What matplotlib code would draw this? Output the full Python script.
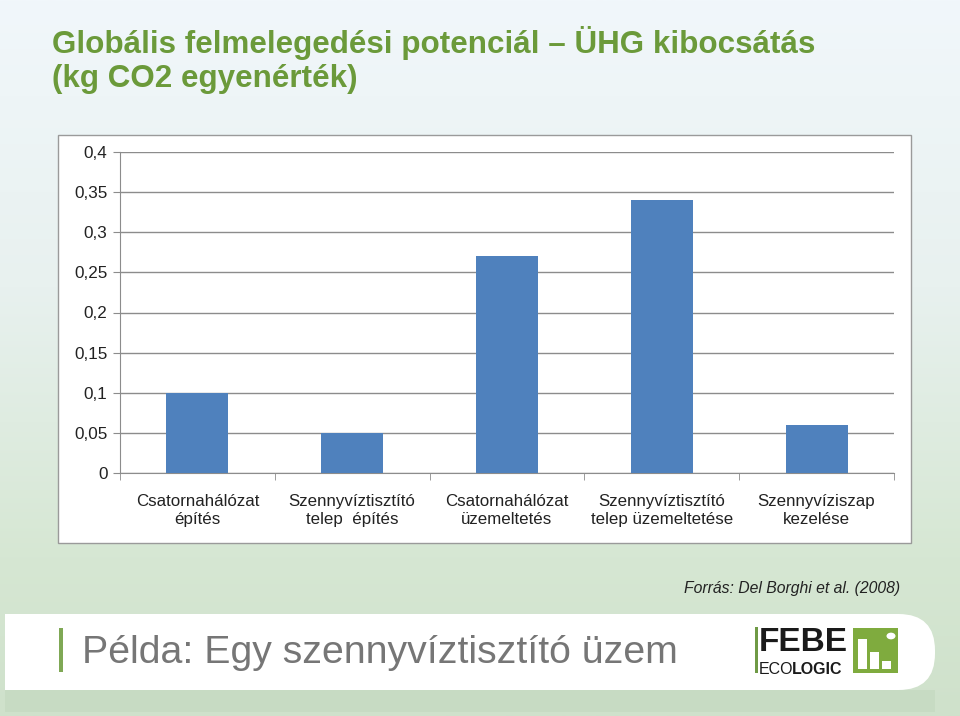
import numpy as np
import matplotlib.pyplot as plt
from matplotlib.patches import Rectangle, FancyBboxPatch
from matplotlib.colors import LinearSegmentedColormap

categories = ["Csatornahálózat\népítés",
              "Szennyvíztisztító\ntelep  építés",
              "Csatornahálózat\nüzemeltetés",
              "Szennyvíztisztító\ntelep üzemeltetése",
              "Szennyvíziszap\nkezelése"]
values = [0.10, 0.05, 0.27, 0.34, 0.06]
yticks = [0, 0.05, 0.1, 0.15, 0.2, 0.25, 0.3, 0.35, 0.4]
ytick_labels = ["0", "0,05", "0,1", "0,15", "0,2", "0,25", "0,3", "0,35", "0,4"]

TITLE_1 = "Globális felmelegedési potenciál – ÜHG kibocsátás"
TITLE_2 = "(kg CO2 egyenérték)"
SOURCE = "Forrás: Del Borghi et al. (2008)"
FOOTER = "Példa: Egy szennyvíztisztító üzem"

plt.rcParams["font.family"] = ["Liberation Sans", "DejaVu Sans"]

W, H = 960, 716
fig = plt.figure(figsize=(W / 100, H / 100), dpi=100)


def fx(px):
    return px / W


def fy(py):
    # pixel row measured from the top -> figure fraction
    return 1 - py / H


# slide background gradient
bg = fig.add_axes([0, 0, 1, 1], zorder=-10)
cmap = LinearSegmentedColormap.from_list(
    "bg", [(0.0, "#f1f7fb"), (0.4, "#e8f1ef"), (0.78, "#d6e7d3"), (1.0, "#cfe1cb")])
grad = np.linspace(0, 1, 256).reshape(-1, 1)
bg.imshow(grad, aspect="auto", cmap=cmap, extent=[0, 1, 1, 0])
bg.set_xlim(0, 1)
bg.set_ylim(1, 0)
bg.axis("off")

# white chart box
fig.patches.append(Rectangle((fx(58), fy(543)), fx(911 - 58), (543 - 135) / H,
                             transform=fig.transFigure, facecolor="white",
                             edgecolor="#9a9a9a", linewidth=1, zorder=-5))

# title
fig.text(fx(52), fy(52.5), TITLE_1, color="#6b9a3a", fontsize=22.6, fontweight="bold",
         ha="left", va="baseline")
fig.text(fx(52), fy(87.5), TITLE_2, color="#6b9a3a", fontsize=22.6, fontweight="bold",
         ha="left", va="baseline")

# bar chart
ax = fig.add_axes([fx(120), fy(473), fx(894 - 120), (473 - 152) / H])
x = np.arange(len(categories))
ax.bar(x, values, width=0.4, color="#4f81bd", zorder=3)
ax.set_xlim(-0.5, len(categories) - 0.5)
ax.set_ylim(0, 0.4)
ax.set_yticks(yticks)
ax.set_yticklabels(ytick_labels, fontsize=12.3, color="#222222")
ax.yaxis.grid(True, color="#8c8c8c", linewidth=1)
ax.set_axisbelow(True)
ax.set_xticks(x)
ax.set_xticklabels(categories, fontsize=12.2, color="#222222", linespacing=1.3)
ax.tick_params(axis="x", length=0, pad=15)
ax.set_xticks(np.arange(-0.5, len(categories)), minor=True)
ax.tick_params(axis="x", which="minor", length=5, color="#8c8c8c")
ax.tick_params(axis="y", length=5, color="#8c8c8c", pad=4)
for side in ["top", "right"]:
    ax.spines[side].set_visible(False)
for side in ["left", "bottom"]:
    ax.spines[side].set_color("#8c8c8c")
ax.patch.set_alpha(0)

# source note
fig.text(fx(900), fy(593), SOURCE, fontsize=11.3, fontstyle="italic", ha="right",
         va="baseline", color="#222222")

# footer band with soft shadow under it
fig.patches.append(Rectangle((fx(5), fy(712)), fx(930), 22 / H, transform=fig.transFigure,
                             facecolor="#c7dbc3", edgecolor="none", zorder=-4))
fig.patches.append(Rectangle((fx(5), fy(690)), fx(600), 76 / H, transform=fig.transFigure,
                             facecolor="white", edgecolor="none", zorder=-3))
fig.patches.append(FancyBboxPatch((fx(500), fy(690)), fx(435), 76 / H,
                                  transform=fig.transFigure,
                                  boxstyle="round,pad=0,rounding_size=0.038",
                                  facecolor="white", edgecolor="none", zorder=-3,
                                  mutation_aspect=W / H))
fig.patches.append(Rectangle((fx(59), fy(672)), fx(4), 44 / H, transform=fig.transFigure,
                             facecolor="#7fa855", edgecolor="none"))
fig.text(fx(82), fy(663), FOOTER, fontsize=28.3, color="#767676", ha="left", va="baseline")

# logo
fig.patches.append(Rectangle((fx(755), fy(673)), fx(3), 46 / H, transform=fig.transFigure,
                             facecolor="#6f9a45", edgecolor="none"))
fig.text(fx(759), fy(651), "FEBE", fontsize=24, fontweight="bold", color="#1a1a1a",
         ha="left", va="baseline")
eco = fig.text(fx(759), fy(674), "ECO", fontsize=11.5, color="#1a1a1a",
               ha="left", va="baseline")
renderer = fig.canvas.get_renderer()
eco_right = eco.get_window_extent(renderer=renderer).x1 - 1.5
fig.text(eco_right / W, fy(674), "LOGIC", fontsize=11.5, fontweight="bold", color="#1a1a1a",
         ha="left", va="baseline")
fig.patches.append(Rectangle((fx(853), fy(673)), fx(45), 45 / H, transform=fig.transFigure,
                             facecolor="#7fab3e", edgecolor="none"))
for bx, bh in [(858, 30), (870, 17), (882, 8)]:
    fig.patches.append(Rectangle((fx(bx), fy(669)), fx(9), bh / H, transform=fig.transFigure,
                                 facecolor="#ffffff", edgecolor="none"))
fig.patches.append(plt.Circle((fx(891), fy(636)), fx(4.5), transform=fig.transFigure,
                              facecolor="#ffffff", edgecolor="none"))

fig.savefig("out.png", dpi=100)
